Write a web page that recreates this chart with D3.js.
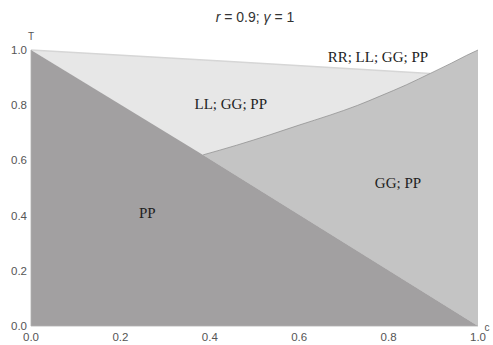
<!DOCTYPE html>
<html><head><meta charset="utf-8">
<script src="https://cdn.jsdelivr.net/npm/d3@7"></script>
<style>body{margin:0;background:#fff}svg{display:block}</style>
</head><body>
<script>
// Boundary curves (c, T)
const diagonal = [[0, 1], [0.385, 0.62], [1, 0]];
const curveGG = [[0.385, 0.62], [0.46, 0.655], [0.535, 0.693], [0.6, 0.728], [0.669, 0.764], [0.73, 0.799], [0.781, 0.833], [0.84, 0.874], [0.893, 0.915], [0.94, 0.952], [0.975, 0.981], [1, 1]];
const topLine = [[0, 1], [0.445, 0.958], [0.893, 0.915]];
const xTicks = [0, 0.2, 0.4, 0.6, 0.8, 1.0];
const yTicks = [0, 0.2, 0.4, 0.6, 0.8, 1.0];
const regionLabels = ["RR; LL; GG; PP", "LL; GG; PP", "GG; PP", "PP"];
const labelPos = [[0.776, 0.955], [0.447, 0.785], [0.821, 0.5], [0.26, 0.39]];

const W = 493, H = 345;
const svg = d3.select("body").append("svg").attr("width", W).attr("height", H);
const x = d3.scaleLinear().domain([0, 1]).range([31, 478]);
const y = d3.scaleLinear().domain([0, 1]).range([326, 50]);
const line = d3.line().x(d => x(d[0])).y(d => y(d[1]));
const smooth = d3.line().x(d => x(d[0])).y(d => y(d[1])).curve(d3.curveMonotoneX);

const end = topLine[topLine.length - 1];
// LL;GG;PP region (partially covered by GG and PP afterwards)
const ll = [...topLine, [1, end[1]], [1, 0]];
svg.append("path").attr("d", line(ll) + "Z").attr("fill", "#e7e7e7");
svg.append("path").attr("d", line(topLine)).attr("fill", "none").attr("stroke", "#d6d6d6").attr("stroke-width", 1.5);

// GG;PP region: between diagonal and curve
svg.append("path")
  .attr("d", smooth(curveGG) + "L" + x(1) + "," + y(0) + "Z")
  .attr("fill", "#c4c4c4");
svg.append("path").attr("d", smooth(curveGG)).attr("fill", "none").attr("stroke", "#8a8a8a").attr("stroke-width", 0.7);

// PP region: below diagonal
svg.append("path").attr("d", line([[0, 0], ...diagonal]) + "Z").attr("fill", "#a2a0a1");

// axes
svg.append("line").attr("x1", x(0)).attr("x2", x(1)).attr("y1", y(0)).attr("y2", y(0)).attr("stroke", "#b0b0b0").attr("stroke-width", 0.8);
svg.append("line").attr("x1", x(0)).attr("x2", x(0)).attr("y1", y(0)).attr("y2", y(1)).attr("stroke", "#b0b0b0").attr("stroke-width", 0.8);

const tickFont = "Liberation Sans, Arial, sans-serif";
svg.selectAll(".xt").data(xTicks).join("text")
  .attr("x", d => x(d)).attr("y", 341).attr("text-anchor", "middle")
  .attr("font-family", tickFont).attr("font-size", 11.5).attr("fill", "#555")
  .text(d => d3.format(".1f")(d));
svg.selectAll(".yt").data(yTicks).join("text")
  .attr("x", 27).attr("y", d => y(d) + 4).attr("text-anchor", "end")
  .attr("font-family", tickFont).attr("font-size", 11.5).attr("fill", "#555")
  .text(d => d3.format(".1f")(d));

svg.append("text").attr("x", 31).attr("y", 40).attr("text-anchor", "middle")
  .attr("font-family", tickFont).attr("font-size", 10).attr("fill", "#555").text("T");
svg.append("text").attr("x", 487).attr("y", 331).attr("text-anchor", "middle")
  .attr("font-family", tickFont).attr("font-size", 10).attr("fill", "#555").text("c");

// title
const t = svg.append("text").attr("x", 255).attr("y", 22).attr("text-anchor", "middle")
  .attr("font-family", tickFont).attr("font-size", 14).attr("fill", "#333");
t.append("tspan").attr("font-style", "italic").text("r");
t.append("tspan").text(" = 0.9; ");
t.append("tspan").attr("font-style", "italic").text("γ");
t.append("tspan").text(" = 1");

svg.selectAll(".rl").data(regionLabels).join("text")
  .attr("x", (d, i) => x(labelPos[i][0])).attr("y", (d, i) => y(labelPos[i][1]))
  .attr("text-anchor", "middle")
  .attr("font-family", "Liberation Serif, DejaVu Serif, serif").attr("font-size", 15).attr("fill", "#222")
  .text(d => d);
</script>
</body></html>
